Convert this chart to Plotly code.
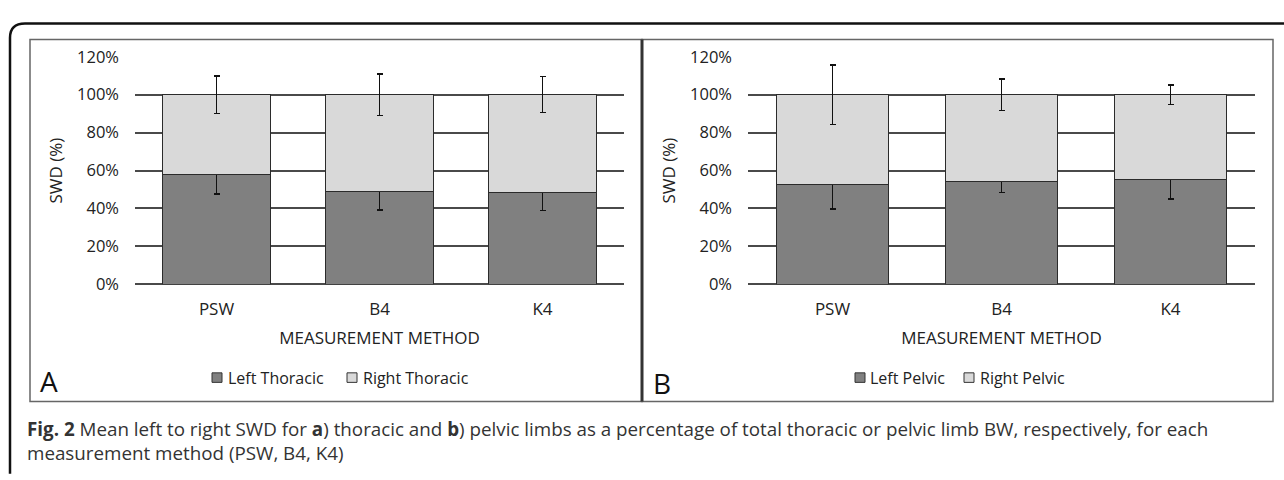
import plotly.graph_objects as go

W, H = 1284, 480

categories = ["PSW", "B4", "K4"]

# Panel A (thoracic)
left_thoracic = [57.7, 49.0, 48.2]
right_thoracic = [42.3, 51.0, 51.8]
left_thoracic_err = [10.2, 9.8, 9.4]
right_thoracic_err = [9.8, 11.0, 9.5]

# Panel B (pelvic)
left_pelvic = [52.7, 54.4, 55.2]
right_pelvic = [47.3, 45.6, 44.8]
left_pelvic_err = [12.9, 6.0, 10.2]
right_pelvic_err = [15.7, 8.3, 5.1]

y_ticks = [0, 20, 40, 60, 80, 100, 120]
y_tick_text = ["0%", "20%", "40%", "60%", "80%", "100%", "120%"]

FONT = "Open Sans, Lato, sans-serif"
DARK = "#808080"
LIGHT = "#d9d9d9"
EDGE = "#2b2b2b"


def X(px):
    return px / W


def Y(py):
    return 1 - py / H


fig = go.Figure()

panels = [
    ("x", "y", left_thoracic, right_thoracic, left_thoracic_err, right_thoracic_err,
     "Left Thoracic", "Right Thoracic"),
    ("x2", "y2", left_pelvic, right_pelvic, left_pelvic_err, right_pelvic_err,
     "Left Pelvic", "Right Pelvic"),
]

for xa, ya, lv, rv, le, re_, ln, rn in panels:
    fig.add_trace(go.Bar(
        x=categories, y=lv, name=ln, xaxis=xa, yaxis=ya,
        marker=dict(color=DARK, line=dict(color=EDGE, width=1)),
        error_y=dict(type="data", array=le, visible=True, color="#111111",
                     thickness=1.5, width=3),
        showlegend=False,
    ))
    fig.add_trace(go.Bar(
        x=categories, y=rv, name=rn, xaxis=xa, yaxis=ya,
        marker=dict(color=LIGHT, line=dict(color=EDGE, width=1)),
        error_y=dict(type="data", array=re_, visible=True, color="#111111",
                     thickness=1.5, width=3),
        showlegend=False,
    ))

ydom = [Y(286), Y(47)]
axis_font = dict(family=FONT, size=16.5, color="#222222")

common_y = dict(
    range=[0, 120], tickvals=y_ticks, ticktext=y_tick_text,
    showgrid=True, gridcolor="#4a4a4a", gridwidth=1.5,
    zeroline=True, zerolinecolor="#4a4a4a", zerolinewidth=1.5,
    showline=False, ticks="", tickfont=axis_font, ticklabelstandoff=15,
    title=dict(text="SWD (%)", font=dict(family=FONT, size=17, color="#222222"), standoff=10),
    domain=ydom, fixedrange=True,
)
common_x = dict(
    showgrid=False, showline=False, ticks="", tickfont=dict(axis_font, size=17),
    ticklabelstandoff=13,
    title=dict(text="MEASUREMENT METHOD", font=dict(family=FONT, size=17, color="#222222"), standoff=12),
    fixedrange=True,
)

fig.update_layout(
    width=W, height=H,
    margin=dict(l=0, r=0, t=0, b=0),
    paper_bgcolor="white", plot_bgcolor="white",
    barmode="stack", bargap=0.335,
    xaxis=dict(common_x, domain=[X(135), X(624)], anchor="y"),
    yaxis=dict(common_y, anchor="x"),
    xaxis2=dict(common_x, domain=[X(748), X(1255)], anchor="y2"),
    yaxis2=dict(common_y, anchor="x2"),
    font=dict(family=FONT),
)

shapes = []
# outer frame with rounded top-left corner
shapes.append(dict(
    type="path", xref="paper", yref="paper",
    path=(f"M {X(1290)},{Y(12)} L {X(25)},{Y(12)} "
          f"Q {X(10)},{Y(12)} {X(10)},{Y(27)} L {X(10)},{Y(485)}"),
    line=dict(color="#111111", width=2.5),
))
# panel boxes
shapes.append(dict(type="rect", xref="paper", yref="paper",
                   x0=X(30), x1=X(642), y0=Y(409), y1=Y(29),
                   line=dict(color="#666666", width=1.5)))
shapes.append(dict(type="rect", xref="paper", yref="paper",
                   x0=X(642), x1=X(1273), y0=Y(409), y1=Y(29),
                   line=dict(color="#666666", width=1.5)))
shapes.append(dict(type="line", xref="paper", yref="paper",
                   x0=X(642), x1=X(642), y0=Y(409), y1=Y(29),
                   line=dict(color="#333333", width=3)))

annotations = []
# legend (manual)
legend_items = [
    (212, 226, "Left Thoracic", DARK),
    (347, 361, "Right Thoracic", LIGHT),
    (855, 868, "Left Pelvic", DARK),
    (964, 978, "Right Pelvic", LIGHT),
]
for mx, tx, label, col in legend_items:
    shapes.append(dict(type="rect", xref="paper", yref="paper",
                       x0=X(mx), x1=X(mx + 10), y0=Y(389), y1=Y(379),
                       fillcolor=col, line=dict(color="#333333", width=1)))
    annotations.append(dict(x=X(tx), y=Y(384), xref="paper", yref="paper",
                            text=label, showarrow=False, xanchor="left", yanchor="middle",
                            font=dict(family=FONT, size=16, color="#222222")))

# panel letters
annotations.append(dict(x=X(49), y=Y(388), xref="paper", yref="paper", text="A",
                        showarrow=False, xanchor="center", yanchor="middle",
                        font=dict(family=FONT, size=28, color="#111111")))
annotations.append(dict(x=X(662), y=Y(390), xref="paper", yref="paper", text="B",
                        showarrow=False, xanchor="center", yanchor="middle",
                        font=dict(family=FONT, size=28, color="#111111")))

# caption (two lines in one text block)
cap_font = dict(family=FONT, size=18.8, color="#333333")
annotations.append(dict(
    x=X(25), y=Y(451), xref="paper", yref="paper", showarrow=False,
    xanchor="left", yanchor="middle", align="left", font=cap_font,
    text=("<b>Fig. 2</b> Mean left to right SWD for <b>a</b>) thoracic and <b>b</b>) pelvic "
          "limbs as a percentage of total thoracic or pelvic limb BW, respectively, for each"
          "<br>measurement method (PSW, B4, K4)"),
))

fig.update_layout(shapes=shapes, annotations=annotations)

fig.write_html("out.html",
               config={"displayModeBar": False},
               post_script="document.body.style.margin='0';document.body.style.overflow='hidden';")
